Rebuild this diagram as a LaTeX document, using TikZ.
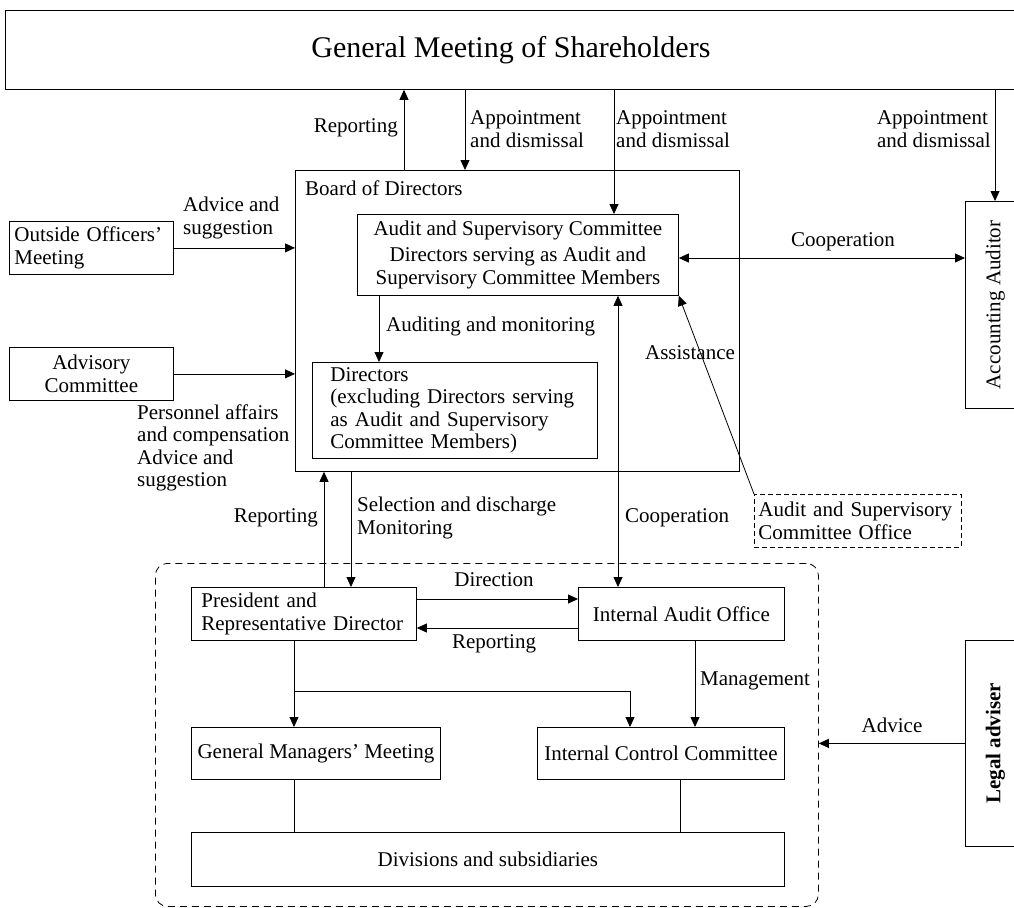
\documentclass[tikz,border=0pt]{standalone}
\usepackage{fontspec}
\usepackage{graphicx}
\setmainfont{Liberation Serif}
\usetikzlibrary{arrows.meta,calc}
\begin{document}
\begin{tikzpicture}[x=1pt,y=-1pt,
  every node/.style={font=\fontsize{21}{22.5}\selectfont},
  box/.style={draw, line width=0.8pt, inner sep=0pt, anchor=north west},
  arr/.style={line width=0.8pt, -{Triangle[length=10pt,width=9pt]}},
  darr/.style={line width=0.8pt, {Triangle[length=10pt,width=9pt]}-{Triangle[length=10pt,width=9pt]}},
  ln/.style={line width=0.8pt},
  lbl/.style={inner sep=0pt, align=left},
]
\useasboundingbox (0,0) rectangle (1014,907);
\clip (0,0) rectangle (1014,907);

% boxes
\node[box, minimum width=1011, minimum height=79, font=\fontsize{30}{32}\selectfont] (gms) at (5,10) {General Meeting of Shareholders};
\node[box, minimum width=444, minimum height=301] (board) at (295,170) {};
\node[lbl, anchor=west] (lboard) at (305,188) {Board of Directors};
\node[box, minimum width=321, minimum height=81, align=center] (asc) at (357,214)
  {Audit and Supervisory Committee\\[4pt]Directors serving as Audit and\\Supervisory Committee Members};
\node[box, minimum width=285, minimum height=96, inner xsep=18pt, text width=249pt, align=left] (dir) at (312,362)
  {Directors\\(excluding Directors serving\\as Audit and Supervisory\\Committee Members)};
\node[box, minimum width=164, minimum height=53, inner xsep=5pt, text width=154pt, align=left] (oom) at (9,221)
  {Outside Officers'\\Meeting};
\node[box, minimum width=164, minimum height=53, align=center] (adv) at (9,347)
  {Advisory\\Committee};
\node[box, minimum width=60, minimum height=207] (aa) at (965,201) {\rotatebox{90}{Accounting Auditor}};
\node[box, dashed, dash pattern=on 5pt off 3pt, minimum width=207, minimum height=53, inner xsep=4pt, text width=199pt, align=left] (asco) at (754,494)
  {Audit and Supervisory\\Committee Office};
\node[draw, line width=0.8pt, dash pattern=on 7pt off 5pt, rounded corners=12pt, minimum width=663, minimum height=343, anchor=north west, inner sep=0pt] (grp) at (155,563) {};
\node[box, minimum width=225, minimum height=53, inner xsep=10pt, text width=205pt, align=left] (pres) at (191,587)
  {President and\\Representative Director};
\node[box, minimum width=206, minimum height=53] (iao) at (578,587) {Internal Audit Office};
\node[box, minimum width=249, minimum height=52] (gmm) at (191,727) {General Managers' Meeting};
\node[box, minimum width=247, minimum height=52] (icc) at (537,727) {Internal Control Committee};
\node[box, minimum width=593, minimum height=54] (div) at (191,832) {Divisions and subsidiaries};
\node[box, minimum width=60, minimum height=206] (legal) at (965,640) {\rotatebox{90}{\bfseries Legal adviser}};

% helper x / y positions
\coordinate (xRep) at (404,0);
\coordinate (xApp1) at (465,0);
\coordinate (xApp2) at (614,0);
\coordinate (xApp3) at (995,0);
\coordinate (xAud) at (379,0);
\coordinate (xCoop) at (618,0);
\coordinate (xRep2) at (324,0);
\coordinate (xSel) at (351,0);
\coordinate (xGM) at (294,0);
\coordinate (xIC) at (630,0);
\coordinate (xMg) at (695,0);
\coordinate (xIC2) at (680,0);
\coordinate (yCoop) at (0,258);
\coordinate (yDir) at (0,599);
\coordinate (yRep) at (0,628);
\coordinate (yBr) at (0,691);

% connectors
\draw[arr] (xRep |- board.north) -- (xRep |- gms.south);
\draw[arr] (xApp1 |- gms.south) -- (xApp1 |- board.north);
\draw[arr] (xApp2 |- gms.south) -- (xApp2 |- asc.north);
\draw[arr] (xApp3 |- gms.south) -- (xApp3 |- aa.north);
\draw[arr] (oom.east) -- (board.west |- oom.east);
\draw[arr] (adv.east) -- (board.west |- adv.east);
\draw[arr] (xAud |- asc.south) -- (xAud |- dir.north);
\draw[darr] (asc.east |- yCoop) -- (aa.west |- yCoop);
\draw[arr] (asco.north west) -- (asc.south east);
\draw[darr] (xCoop |- asc.south) -- (xCoop |- iao.north);
\draw[arr] (xRep2 |- pres.north) -- (xRep2 |- board.south);
\draw[arr] (xSel |- board.south) -- (xSel |- pres.north);
\draw[arr] (pres.east |- yDir) -- (iao.west |- yDir);
\draw[arr] (iao.west |- yRep) -- (pres.east |- yRep);
\draw[arr] (xGM |- pres.south) -- (xGM |- gmm.north);
\draw[arr] (xGM |- yBr) -- (xIC |- yBr) -- (xIC |- icc.north);
\draw[arr] (xMg |- iao.south) -- (xMg |- icc.north);
\draw[ln] (xGM |- gmm.south) -- (xGM |- div.north);
\draw[ln] (xIC2 |- icc.south) -- (xIC2 |- div.north);
\draw[arr] (legal.west) -- (grp.east |- legal.west);

% labels
\node[lbl, anchor=east] (lrep1) at (398,128) {Reporting};
\node[lbl, anchor=west] (lapp1) at (470,129) {Appointment\\and dismissal};
\node[lbl, anchor=west] (lapp2) at (616,129) {Appointment\\and dismissal};
\node[lbl, anchor=east] (lapp3) at (991,129) {Appointment\\and dismissal};
\node[lbl, anchor=west] (ladv1) at (183,218) {Advice and\\suggestion};
\node[lbl, anchor=west] (lpers) at (137,448) {Personnel affairs\\and compensation\\Advice and\\suggestion};
\node[lbl, anchor=west] (laud) at (386,326) {Auditing and monitoring};
\node[lbl] (lcoop1) at (843,242) {Cooperation};
\node[lbl] (lassist) at (690,353) {Assistance};
\node[lbl, anchor=west] (lcoop2) at (625,518) {Cooperation};
\node[lbl, anchor=east] (lrep2) at (318,518) {Reporting};
\node[lbl, anchor=west] (lsel) at (357,518) {Selection and discharge\\Monitoring};
\node[lbl] (ldirc) at (494,580) {Direction};
\node[lbl] (lrep3) at (494,644) {Reporting};
\node[lbl, anchor=west] (lmgmt) at (700,681) {Management};
\node[lbl] (ladvice) at (892,725) {Advice};
\end{tikzpicture}
\end{document}
